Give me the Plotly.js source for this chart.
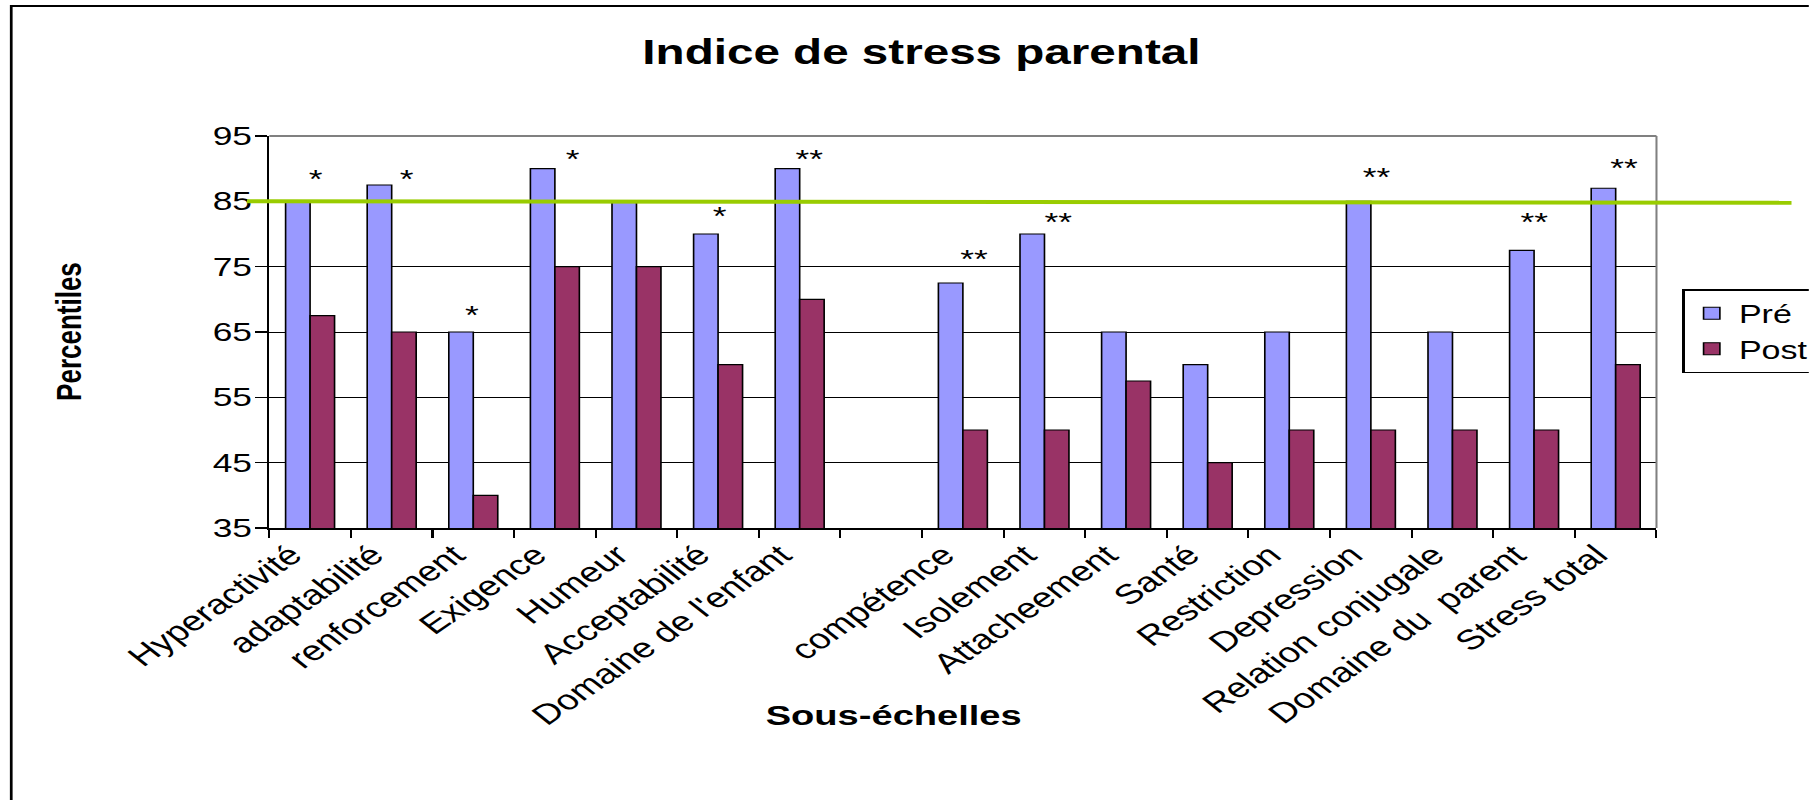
<!DOCTYPE html>
<html>
<head>
<meta charset="utf-8">
<script src="https://cdn.plot.ly/plotly-3.0.1.min.js"></script>
<style>
  html, body { margin: 0; padding: 0; background: #fff; overflow: hidden; }
  #wrap { width: 1809px; height: 800px; overflow: hidden; position: relative; }
  #chart { width: 1330px; height: 800px; transform: scaleX(1.36); transform-origin: 0 0; }
</style>
</head>
<body>
<div id="wrap"><div id="chart"></div></div>
<script>
// ---- data ----
const categories = ['Hyperactivité', 'adaptabilité', 'renforcement', 'Exigence', 'Humeur', 'Acceptabilité',
  "Domaine de l'enfant", '\u00a0', 'compétence', 'Isolement', 'Attacheement', 'Santé', 'Restriction',
  'Depression', 'Relation conjugale', 'Domaine du  parent', 'Stress total'];
const preValues  = [85, 87.5, 65, 90, 85, 80, 90, null, 72.5, 80, 65, 60, 65, 85, 65, 77.5, 87];
const postValues = [67.5, 65, 40, 75, 75, 60, 70, null, 50, 50, 57.5, 45, 50, 50, 50, 50, 60];
const seriesNames = ['Pré', 'Post'];
const thresholdValue = 85;
const starLabels = ['*', '*', '*', '*', '', '*', '**', '', '**', '**', '', '', '', '**', '', '**', '**'];
const starValues = [89, 89, 68.2, 92, null, 83.3, 92, null, 76.7, 82.4, null, null, null, 89.2, null, 82.4, 90.6];
const yTickValues = [35, 45, 55, 65, 75, 85, 95];
const chartTitle = 'Indice de stress parental';
const xTitle = 'Sous-échelles';
const yTitle = 'Percentiles';

// ---- layout geometry (reference pixels, horizontally stretched by S) ----
const S = 1.36, W = 1330, H = 800;
const plotL = 269 / S, plotR = 1656 / S, plotT = 136, plotB = 528;
const PW = plotR - plotL, PH = plotB - plotT;
const px = fx => (fx / S - plotL) / PW;      // full-image x -> paper x
const py = fy => (plotB - fy) / PH;          // full-image y -> paper y
const starShift = [5, 15, -1, 17, 0, 2, 9, 0, 11, 14, 0, 0, 0, 5, 0, 0, 8];

const FONT = 'Arial, "Liberation Sans", sans-serif';

const traces = [
  { type: 'bar', name: seriesNames[0], x: categories, y: preValues, legendgroup: 'a',
    marker: { color: '#9999FF', line: { color: '#000', width: 1.2 } }, hoverinfo: 'x+y' },
  { type: 'bar', name: seriesNames[1], x: categories, y: postValues, legendgroup: 'b',
    marker: { color: '#993366', line: { color: '#000', width: 1.2 } }, hoverinfo: 'x+y' }
];

const annotations = [];
categories.forEach((c, i) => {
  if (starLabels[i]) {
    annotations.push({ x: c, y: starValues[i], xref: 'x', yref: 'y', text: starLabels[i],
      showarrow: false, xanchor: 'center', yanchor: 'middle', xshift: starShift[i] / S, yshift: -3.5,
      font: { family: FONT, size: 26, color: '#000' } });
  }
});
annotations.push({ text: xTitle, xref: 'paper', yref: 'paper', x: px(893), y: py(715),
  xanchor: 'center', yanchor: 'middle', showarrow: false,
  font: { family: FONT, size: 28, color: '#000', weight: 700 } });
annotations.push({ text: yTitle, xref: 'paper', yref: 'paper', x: px(69), y: py(331),
  xanchor: 'center', yanchor: 'middle', showarrow: false, textangle: -90,
  font: { family: FONT, size: 26, color: '#000', weight: 700 } });

const layout = {
  width: W, height: H,
  margin: { l: plotL, r: W - plotR, t: plotT, b: H - plotB, autoexpand: false },
  paper_bgcolor: '#fff', plot_bgcolor: '#fff',
  font: { family: FONT, color: '#000' },
  title: { text: chartTitle, xref: 'container', yref: 'container', x: 921.5 / 1809, y: 1 - 51.5 / H,
    xanchor: 'center', yanchor: 'middle', font: { family: FONT, size: 35, color: '#000', weight: 700 } },
  barmode: 'group', bargap: 0.4, bargroupgap: 0,
  showlegend: true,
  legend: { x: px(1682), y: py(289), xanchor: 'left', yanchor: 'top', bgcolor: '#fff',
    bordercolor: '#000', borderwidth: 1.5, font: { family: FONT, size: 25, color: '#000' },
    tracegroupgap: 4, traceorder: 'normal' },
  xaxis: { type: 'category', categoryorder: 'array', categoryarray: categories,
    showline: true, linecolor: '#000', linewidth: 1.5, showgrid: false, zeroline: false,
    ticks: 'outside', tickson: 'boundaries', ticklen: 8, tickwidth: 1.5, tickcolor: '#000',
    tickangle: -43, ticklabelshift: -14, ticklabelstandoff: -2,
    tickfont: { family: FONT, size: 28, color: '#000' }, automargin: false },
  yaxis: { range: [35, 95], tickmode: 'array', tickvals: yTickValues, ticktext: yTickValues.map(String),
    showline: true, linecolor: '#000', linewidth: 1.5, showgrid: true, gridcolor: '#000', gridwidth: 1,
    zeroline: false, ticks: 'outside', ticklen: 9, tickwidth: 1.5, tickcolor: '#000',
    ticklabelstandoff: -3, tickfont: { family: FONT, size: 26, color: '#000' }, automargin: false },
  shapes: [
    { type: 'line', xref: 'paper', yref: 'paper', x0: 0, x1: 1, y0: 1, y1: 1, layer: 'above',
      line: { color: '#808080', width: 2 } },
    { type: 'line', xref: 'paper', yref: 'paper', x0: 1, x1: 1, y0: 0, y1: 1, layer: 'above',
      line: { color: '#808080', width: 1.5 } },
    { type: 'line', xref: 'paper', yref: 'y', x0: px(246.7), x1: px(1791), y0: thresholdValue, y1: thresholdValue - 0.2,
      layer: 'above', line: { color: '#99CC00', width: 4 } },
    { type: 'rect', xref: 'paper', yref: 'paper', x0: px(11), x1: px(2500), y0: py(1200), y1: py(6),
      layer: 'below', line: { color: '#000', width: 2 } }
  ],
  annotations: annotations
};

Plotly.newPlot('chart', traces, layout, { displayModeBar: false, staticPlot: true });
</script>
</body>
</html>
